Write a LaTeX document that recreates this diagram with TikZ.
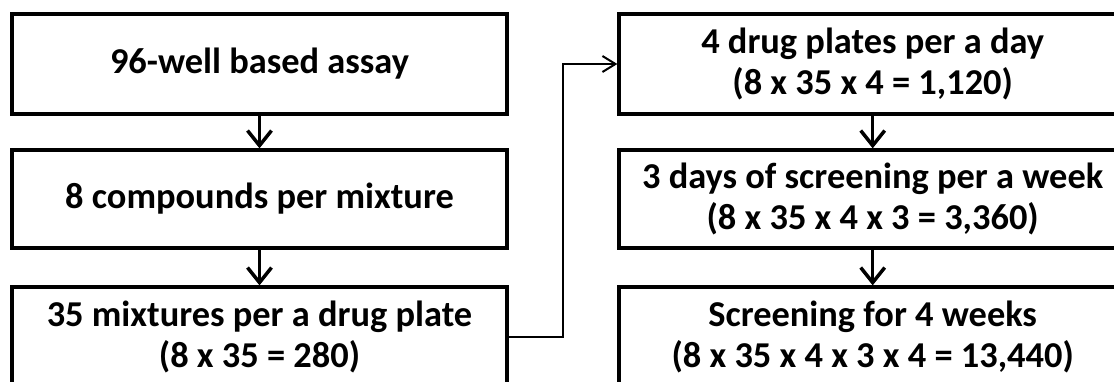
\documentclass[tikz,border=0pt]{standalone}
\usepackage{fontspec}
\setmainfont{Carlito}
\usetikzlibrary{arrows.meta}
\begin{document}
\begin{tikzpicture}[x=1pt,y=-1pt,
  box/.style={draw, line width=3.3pt, align=center, inner sep=0pt,
    font=\bfseries\fontsize{36.4}{40.5}\selectfont},
  leftbox/.style={box, minimum width=495pt},
  rightbox/.style={box, minimum width=507.4pt},
  flow/.style={line width=3.5pt, -{Straight Barb[length=15pt,width=24pt]}},
  link/.style={line width=2pt, -{Straight Barb[length=13pt,width=16pt]}}]
\useasboundingbox[fill=white] (0,0) rectangle (1114,381);

% left column
\node[leftbox, minimum height=100pt] (b1) at (259.5,64) {96-well based assay};
\node[leftbox, minimum height=98pt] (b2) at (259.5,199) {8 compounds per mixture};
\node[leftbox, minimum height=100pt] (b3) at (259.5,337) {35 mixtures per a drug plate\\(8 x 35 = 280)};

% right column
\node[rightbox, minimum height=100pt] (b4) at (872.7,64) {4 drug plates per a day\\(8 x 35 x 4 = 1,120)};
\node[rightbox, minimum height=98pt] (b5) at (872.7,199) {3 days of screening per a week\\(8 x 35 x 4 x 3 = 3,360)};
\node[rightbox, minimum height=100pt] (b6) at (872.7,337) {Screening for 4 weeks\\(8 x 35 x 4 x 3 x 4 = 13,440)};

% vertical flow arrows
\draw[flow] (b1.south) -- (b2.north);
\draw[flow] (b2.south) -- (b3.north);
\draw[flow] (b4.south) -- (b5.north);
\draw[flow] (b5.south) -- (b6.north);

% link between the columns
\coordinate (bend) at (563,337);
\draw[link] (b3.east) -- (bend) |- (b4.west);
\end{tikzpicture}
\end{document}
